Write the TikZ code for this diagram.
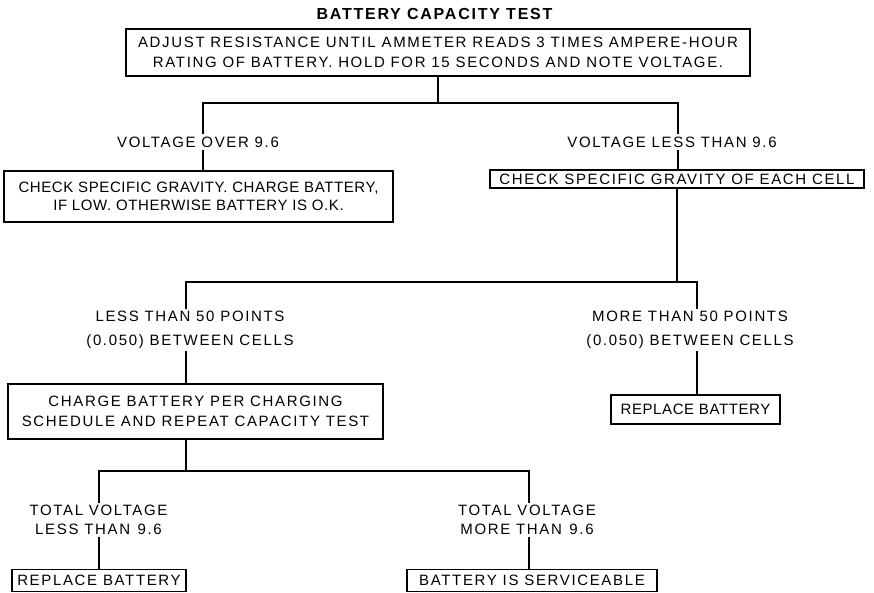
\documentclass[tikz,border=0pt]{standalone}
\usepackage{fontspec}
\newfontfamily\chartfont[LetterSpace=11]{Liberation Sans}
\newfontfamily\tightfont[LetterSpace=4]{Liberation Sans}
\tikzset{box/.style={draw, line width=1.8pt, inner sep=0pt, align=center, font=\chartfont\fontsize{15}{20}\selectfont}}
\tikzset{cond/.style={inner sep=2pt, align=center, font=\chartfont\fontsize{15}{19}\selectfont}}
\tikzset{wire/.style={line width=1.8pt}}

\begin{document}
\begin{tikzpicture}[x=1pt, y=-1pt]
\useasboundingbox (0,0) rectangle (874,593);
\node[font=\chartfont\bfseries\fontsize{16}{18}\selectfont] (T) at (434.5,14) {BATTERY CAPACITY TEST};
\node[box, minimum width=624, minimum height=47] (S0) at (438,52.5) {ADJUST RESISTANCE UNTIL AMMETER READS 3 TIMES AMPERE-HOUR\\RATING OF BATTERY. HOLD FOR 15 SECONDS AND NOTE VOLTAGE.};
\node[cond] (C1) at (198,142) {VOLTAGE OVER 9.6};
\node[box, minimum width=389, minimum height=51, font=\tightfont\fontsize{15}{18}\selectfont] (S1) at (198.5,196.5) {CHECK SPECIFIC GRAVITY. CHARGE BATTERY,\\IF LOW. OTHERWISE BATTERY IS O.K.};
\node[cond] (C2) at (672,142) {VOLTAGE LESS THAN 9.6};
\node[box, minimum width=374, minimum height=18] (S2) at (677,179) {CHECK SPECIFIC GRAVITY OF EACH CELL};
\node[cond] (C3) at (190,330) {LESS THAN 50 POINTS\\[5pt](0.050) BETWEEN CELLS};
\node[box, minimum width=375, minimum height=55] (S3) at (195.5,411.5) {CHARGE BATTERY PER CHARGING\\SCHEDULE AND REPEAT CAPACITY TEST};
\node[cond] (C4) at (690,330) {MORE THAN 50 POINTS\\[5pt](0.050) BETWEEN CELLS};
\node[box, minimum width=169, minimum height=29, font=\tightfont\fontsize{15}{18}\selectfont] (S4) at (695.5,409.5) {REPLACE BATTERY};
\node[cond] (C5) at (98.5,520) {TOTAL VOLTAGE\\LESS THAN\enspace 9.6};
\node[box, minimum width=174, minimum height=22] (S5) at (99,580.5) {REPLACE BATTERY};
\node[cond] (C6) at (527,520) {TOTAL VOLTAGE\\MORE THAN\enspace 9.6};
\node[box, minimum width=250, minimum height=22] (S6) at (532,580.5) {BATTERY IS SERVICEABLE};
\coordinate (A1) at (203,103);
\coordinate (A2) at (678,103);
\coordinate (B1) at (186,282);
\coordinate (B2) at (697,282);
\coordinate (D1) at (99,471);
\coordinate (D2) at (529,471);
\draw[wire] (S0.south) |- (A1) -- (A1 |- C1.north) (A1 |- C1.south) -- (A1 |- S1.north);
\draw[wire] (S0.south) |- (A2) -- (A2 |- C2.north) (A2 |- C2.south) -- (A2 |- S2.north);
\draw[wire] (S2.south) |- (B1) -- (B1 |- C3.north) (B1 |- C3.south) -- (B1 |- S3.north);
\draw[wire] (S2.south) |- (B2) -- (B2 |- C4.north) (B2 |- C4.south) -- (B2 |- S4.north);
\draw[wire] (B1 |- S3.south) |- (D1) -- (D1 |- C5.north) (D1 |- C5.south) -- (D1 |- S5.north);
\draw[wire] (B1 |- S3.south) |- (D2) -- (D2 |- C6.north) (D2 |- C6.south) -- (D2 |- S6.north);
\end{tikzpicture}
\end{document}
